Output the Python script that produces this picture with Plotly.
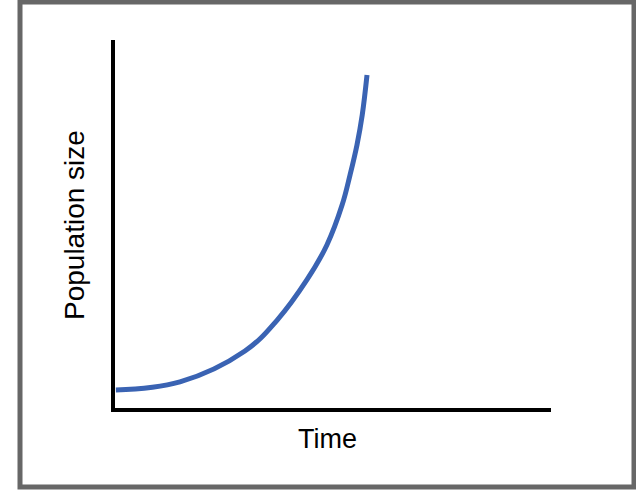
import plotly.graph_objects as go

# Data (arbitrary units)
time_vals = [0.02, 1.49, 2.98, 3.72, 4.40, 4.86, 5.21, 5.39, 5.55, 5.67, 5.78]
population_vals = [0.49, 0.71, 1.55, 2.39, 3.48, 4.43, 5.52, 6.33, 7.15, 7.96, 9.05]
x_label = "Time"
y_label = "Population size"

W, H = 636, 492

def px(x):
    return x / W

def py(y):
    return 1 - y / H

fig = go.Figure()
fig.add_trace(go.Scatter(
    x=time_vals, y=population_vals, mode="lines",
    line=dict(color="#3a63b3", width=5, shape="spline", smoothing=1.1),
    hoverinfo="skip", showlegend=False,
))

fig.update_layout(
    width=W, height=H,
    margin=dict(l=0, r=0, t=0, b=0),
    paper_bgcolor="white", plot_bgcolor="white",
    font=dict(family="Liberation Sans, Arial, sans-serif", color="black"),
    xaxis=dict(domain=[px(115), px(551)], range=[0, 10], showgrid=False, zeroline=False,
               showticklabels=False, ticks="", showline=True, linecolor="black", linewidth=4,
               fixedrange=True),
    yaxis=dict(domain=[py(408), py(40)], range=[0, 10], showgrid=False, zeroline=False,
               showticklabels=False, ticks="", showline=True, linecolor="black", linewidth=4,
               fixedrange=True),
    shapes=[dict(type="rect", xref="paper", yref="paper",
                 x0=px(20), x1=px(634), y0=py(487), y1=py(2),
                 line=dict(color="#676767", width=5), fillcolor="rgba(0,0,0,0)")],
    annotations=[
        dict(text=x_label, xref="paper", yref="paper", x=px(327), y=py(439),
             xanchor="center", yanchor="middle", showarrow=False,
             font=dict(size=27, color="black")),
        dict(text=y_label, xref="paper", yref="paper", x=px(75), y=py(225),
             xanchor="center", yanchor="middle", showarrow=False, textangle=-90,
             font=dict(size=28, color="black")),
    ],
)

fig.write_html("out.html", config={"displayModeBar": False},
               post_script="document.body.style.margin='0';document.body.style.overflow='hidden';")
